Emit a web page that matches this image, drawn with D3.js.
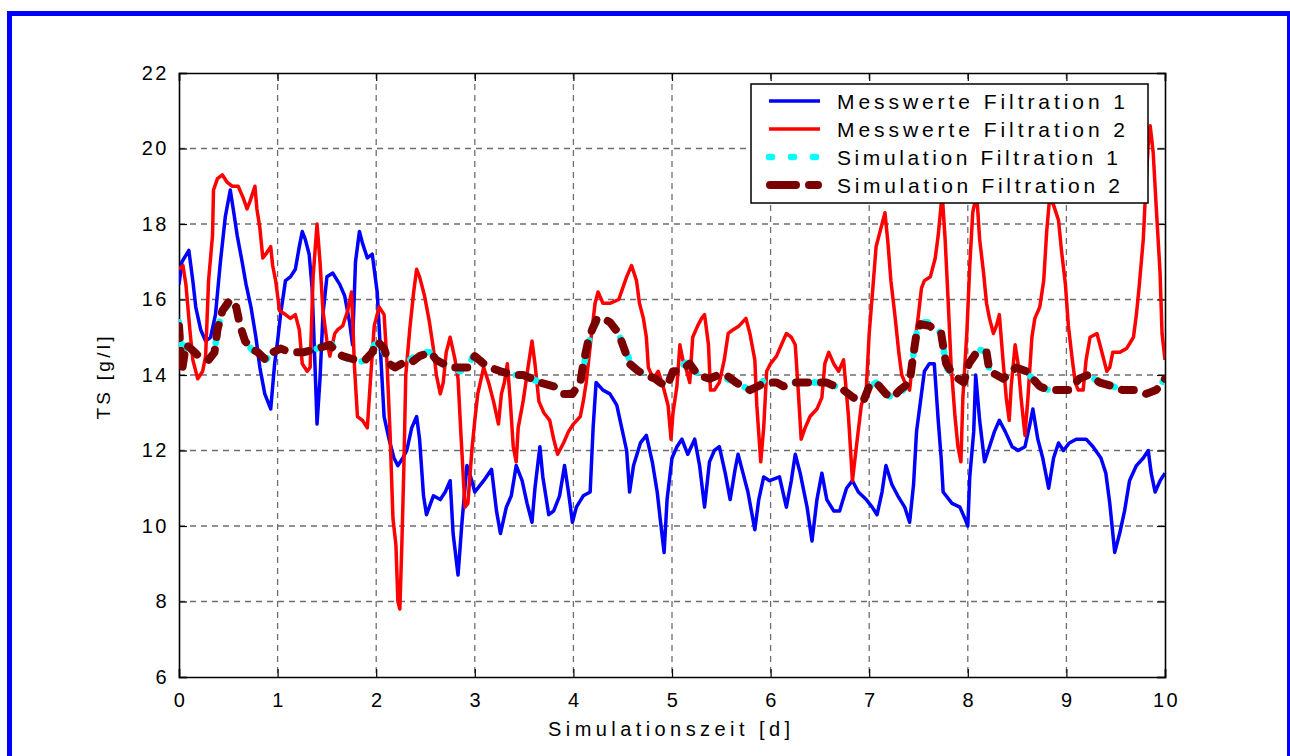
<!DOCTYPE html>
<html>
<head>
<meta charset="utf-8">
<script src="https://cdn.jsdelivr.net/npm/d3@7"></script>
<style>
  body { margin: 0; background: #fff; }
  text { font-family: "Liberation Sans", Arial, sans-serif; fill: #000; }
</style>
</head>
<body>
<div id="container"></div>
<script>
/* DATA */
const xTicks = [0, 1, 2, 3, 4, 5, 6, 7, 8, 9, 10];
const yTicks = [6, 8, 10, 12, 14, 16, 18, 20, 22];
const seriesNames = ["Messwerte Filtration 1", "Messwerte Filtration 2", "Simulation Filtration 1", "Simulation Filtration 2"];

// [time in d, TS in g/l]
const mess1 = [
  [0,16.4],[0.03,17.0],[0.1,17.3],[0.14,16.5],[0.17,15.8],[0.22,15.2],[0.27,14.9],[0.32,15.0],[0.37,15.6],[0.42,17.0],
  [0.47,18.2],[0.52,18.9],[0.55,18.4],[0.59,17.7],[0.64,17.0],[0.68,16.4],[0.73,15.8],[0.78,15.0],[0.82,14.2],[0.87,13.5],
  [0.93,13.1],[0.97,14.3],[1.0,14.9],[1.03,15.6],[1.08,16.5],[1.13,16.6],[1.18,16.8],[1.22,17.4],[1.25,17.8],[1.28,17.6],
  [1.32,17.2],[1.35,16.3],[1.38,14.2],[1.40,12.7],[1.43,13.9],[1.46,15.6],[1.50,16.6],[1.56,16.7],[1.63,16.4],[1.68,16.1],
  [1.73,15.4],[1.76,14.8],[1.79,17.0],[1.83,17.8],[1.86,17.5],[1.91,17.1],[1.96,17.2],[2.01,16.2],[2.04,14.8],[2.08,12.9],
  [2.13,12.3],[2.18,11.8],[2.22,11.6],[2.27,11.8],[2.31,12.0],[2.36,12.6],[2.41,12.9],[2.44,12.3],[2.48,10.8],[2.51,10.3],
  [2.58,10.8],[2.65,10.7],[2.70,10.9],[2.75,11.2],[2.78,9.8],[2.83,8.7],[2.87,10.1],[2.92,11.6],[2.97,11.2],[3.0,10.9],
  [3.09,11.2],[3.17,11.5],[3.22,10.4],[3.26,9.8],[3.32,10.5],[3.37,10.8],[3.42,11.6],[3.48,11.2],[3.53,10.6],[3.58,10.1],
  [3.61,11.0],[3.66,12.1],[3.69,11.3],[3.75,10.3],[3.80,10.4],[3.86,10.8],[3.91,11.6],[3.95,10.9],[3.99,10.1],[4.03,10.5],
  [4.10,10.8],[4.17,10.9],[4.20,12.6],[4.23,13.8],[4.30,13.6],[4.37,13.5],[4.44,13.2],[4.49,12.6],[4.54,12.0],[4.57,10.9],
  [4.61,11.6],[4.68,12.2],[4.74,12.4],[4.80,11.7],[4.85,10.9],[4.88,10.2],[4.92,9.3],[4.95,10.7],[5.00,11.8],[5.05,12.1],
  [5.10,12.3],[5.16,11.9],[5.23,12.3],[5.28,11.6],[5.33,10.5],[5.38,11.7],[5.43,12.0],[5.48,12.1],[5.54,11.4],[5.59,10.7],
  [5.64,11.5],[5.67,11.9],[5.72,11.4],[5.77,10.9],[5.84,9.9],[5.88,10.7],[5.93,11.3],[5.99,11.2],[6.09,11.3],[6.16,10.5],
  [6.21,11.2],[6.25,11.9],[6.30,11.4],[6.37,10.5],[6.42,9.6],[6.47,10.7],[6.52,11.4],[6.57,10.7],[6.64,10.4],[6.70,10.4],
  [6.77,11.0],[6.83,11.2],[6.89,10.9],[6.97,10.7],[7.03,10.5],[7.08,10.3],[7.13,10.9],[7.17,11.6],[7.23,11.1],[7.29,10.8],
  [7.36,10.5],[7.41,10.1],[7.45,11.1],[7.48,12.5],[7.51,13.1],[7.56,14.1],[7.61,14.3],[7.66,14.3],[7.70,12.8],[7.73,11.8],
  [7.75,10.9],[7.84,10.6],[7.92,10.5],[7.97,10.2],[8.0,10.0],[8.02,11.3],[8.06,12.5],[8.08,14.0],[8.12,12.8],[8.17,11.7],
  [8.22,12.1],[8.27,12.5],[8.32,12.8],[8.38,12.5],[8.45,12.1],[8.51,12.0],[8.58,12.1],[8.63,12.7],[8.66,13.1],[8.71,12.3],
  [8.76,11.8],[8.82,11.0],[8.87,11.8],[8.92,12.2],[8.97,12.0],[9.03,12.2],[9.10,12.3],[9.20,12.3],[9.27,12.1],[9.35,11.8],
  [9.40,11.4],[9.44,10.6],[9.49,9.3],[9.54,9.8],[9.59,10.4],[9.64,11.2],[9.71,11.6],[9.78,11.8],[9.83,12.0],[9.86,11.4],
  [9.90,10.9],[9.95,11.2],[10.0,11.4]
];

const mess2 = [
  [0,16.8],[0.04,16.9],[0.07,16.4],[0.11,15.2],[0.14,14.4],[0.19,13.9],[0.24,14.1],[0.27,14.5],[0.30,16.5],[0.34,17.7],
  [0.35,18.9],[0.39,19.2],[0.44,19.3],[0.49,19.1],[0.54,19.0],[0.60,19.0],[0.65,18.7],[0.69,18.4],[0.72,18.6],[0.77,19.0],
  [0.79,18.4],[0.82,17.9],[0.85,17.1],[0.88,17.2],[0.93,17.4],[0.95,16.9],[0.98,16.5],[1.02,15.7],[1.08,15.6],[1.13,15.5],
  [1.18,15.6],[1.22,15.2],[1.25,14.3],[1.30,14.1],[1.33,14.2],[1.36,16.6],[1.40,18.0],[1.43,17.0],[1.46,15.7],[1.50,14.9],
  [1.53,14.5],[1.58,15.1],[1.61,15.2],[1.66,15.3],[1.71,15.7],[1.75,16.2],[1.78,14.2],[1.81,12.9],[1.86,12.8],[1.91,12.6],
  [1.94,13.8],[1.98,15.3],[2.03,15.8],[2.08,15.6],[2.11,14.3],[2.14,12.5],[2.17,10.2],[2.20,9.5],[2.22,8.0],[2.24,7.8],
  [2.26,9.5],[2.28,11.5],[2.30,14.0],[2.34,15.2],[2.38,16.2],[2.41,16.8],[2.44,16.6],[2.49,16.1],[2.54,15.4],[2.58,14.7],
  [2.61,14.0],[2.65,13.5],[2.68,13.8],[2.71,14.6],[2.75,15.0],[2.80,14.4],[2.83,13.9],[2.86,12.4],[2.90,10.5],[2.93,10.6],
  [2.97,12.0],[3.0,12.8],[3.03,13.5],[3.09,14.2],[3.14,13.8],[3.19,13.3],[3.24,12.7],[3.27,13.5],[3.30,13.8],[3.33,14.3],
  [3.36,13.3],[3.39,12.1],[3.42,11.7],[3.44,12.6],[3.49,13.3],[3.54,14.2],[3.58,14.9],[3.61,14.3],[3.65,13.3],[3.70,13.0],
  [3.76,12.8],[3.80,12.3],[3.84,11.9],[3.90,12.2],[3.95,12.5],[4.00,12.7],[4.07,12.9],[4.10,13.3],[4.13,13.8],[4.18,15.0],
  [4.22,15.9],[4.25,16.2],[4.30,15.9],[4.37,15.9],[4.46,16.0],[4.50,16.3],[4.54,16.6],[4.59,16.9],[4.64,16.5],[4.67,15.9],
  [4.71,15.5],[4.74,15.0],[4.76,14.2],[4.81,13.9],[4.86,14.1],[4.91,13.7],[4.96,13.2],[4.99,12.3],[5.01,13.0],[5.05,13.7],
  [5.08,14.8],[5.11,14.4],[5.15,14.1],[5.18,13.8],[5.21,15.0],[5.26,15.3],[5.30,15.5],[5.33,15.6],[5.37,14.8],[5.39,13.6],
  [5.43,13.6],[5.48,13.8],[5.53,14.4],[5.57,15.1],[5.62,15.2],[5.68,15.3],[5.75,15.5],[5.79,15.1],[5.84,14.4],[5.86,13.2],
  [5.90,11.7],[5.93,12.6],[5.96,14.1],[6.00,14.3],[6.06,14.5],[6.11,14.8],[6.16,15.1],[6.21,15.0],[6.25,14.8],[6.28,13.6],
  [6.31,12.3],[6.35,12.6],[6.40,12.9],[6.47,13.1],[6.52,13.4],[6.55,14.3],[6.59,14.6],[6.64,14.3],[6.69,14.1],[6.74,14.4],
  [6.79,12.9],[6.83,11.2],[6.87,12.1],[6.92,13.2],[6.97,13.6],[7.00,15.1],[7.04,16.4],[7.07,17.4],[7.13,18.0],[7.16,18.3],
  [7.19,17.5],[7.22,16.5],[7.26,15.6],[7.30,14.6],[7.33,14.0],[7.38,13.7],[7.41,13.6],[7.45,14.6],[7.50,15.6],[7.53,16.3],
  [7.56,16.5],[7.62,16.6],[7.67,17.1],[7.70,17.7],[7.74,18.8],[7.77,17.6],[7.80,16.0],[7.83,14.3],[7.87,12.9],[7.90,12.1],
  [7.93,11.7],[7.95,13.4],[7.99,15.1],[8.02,16.9],[8.05,18.3],[8.09,18.8],[8.12,17.6],[8.16,16.7],[8.19,15.9],[8.22,15.5],
  [8.26,15.1],[8.29,15.3],[8.32,15.6],[8.36,14.3],[8.39,13.4],[8.42,12.8],[8.44,13.7],[8.48,14.8],[8.51,14.3],[8.54,13.4],
  [8.58,12.4],[8.61,13.4],[8.65,15.0],[8.68,15.5],[8.73,15.8],[8.77,16.5],[8.80,17.8],[8.83,18.7],[8.87,18.5],[8.92,18.1],
  [8.95,17.3],[8.99,16.4],[9.02,15.3],[9.06,14.4],[9.09,13.8],[9.12,13.6],[9.17,13.6],[9.20,14.4],[9.24,15.0],[9.31,15.1],
  [9.34,14.8],[9.38,14.4],[9.41,14.1],[9.44,14.2],[9.47,14.6],[9.54,14.6],[9.61,14.7],[9.68,15.0],[9.71,15.6],[9.74,16.4],
  [9.78,17.6],[9.80,18.7],[9.83,20.1],[9.85,20.6],[9.88,19.9],[9.91,18.5],[9.95,16.7],[9.97,15.1],[10.0,14.4]
];

const sim1 = [
  [0,15.4],[0.03,14.3],[0.07,14.9],[0.12,14.7],[0.2,14.5],[0.3,14.4],[0.36,14.6],[0.39,15.2],[0.44,15.7],[0.52,15.9],
  [0.58,15.8],[0.62,15.3],[0.67,14.9],[0.73,14.7],[0.8,14.5],[0.88,14.4],[0.95,14.6],[1.03,14.7],[1.13,14.6],[1.26,14.6],
  [1.40,14.7],[1.53,14.9],[1.60,14.6],[1.66,14.5],[1.79,14.3],[1.89,14.4],[1.96,14.7],[2.01,14.9],[2.08,14.6],[2.13,14.3],
  [2.19,14.2],[2.26,14.3],[2.34,14.4],[2.44,14.6],[2.55,14.6],[2.61,14.4],[2.75,14.2],[2.85,14.1],[2.93,14.2],[3.0,14.6],
  [3.09,14.3],[3.15,14.2],[3.26,14.1],[3.39,14.0],[3.49,14.0],[3.58,13.9],[3.66,13.8],[3.80,13.7],[3.90,13.6],[3.99,13.5],
  [4.07,13.8],[4.10,14.2],[4.15,14.8],[4.19,15.2],[4.24,15.4],[4.30,15.5],[4.37,15.4],[4.46,15.1],[4.50,14.8],[4.57,14.4],
  [4.66,14.1],[4.74,14.0],[4.83,13.9],[4.88,13.8],[4.95,13.8],[5.01,14.1],[5.08,14.2],[5.18,14.4],[5.26,14.0],[5.38,13.9],
  [5.47,14.0],[5.55,13.9],[5.65,13.8],[5.79,13.6],[5.87,13.7],[5.95,13.9],[6.06,13.8],[6.13,13.7],[6.23,13.8],[6.40,13.8],
  [6.57,13.8],[6.74,13.6],[6.84,13.4],[6.94,13.3],[7.00,13.7],[7.07,13.8],[7.17,13.5],[7.24,13.4],[7.31,13.5],[7.41,13.8],
  [7.44,14.4],[7.48,15.1],[7.52,15.4],[7.61,15.4],[7.73,15.1],[7.76,14.6],[7.78,14.2],[7.85,14.0],[7.96,13.9],[8.01,14.3],
  [8.09,14.7],[8.19,14.6],[8.22,14.1],[8.36,13.9],[8.49,14.2],[8.59,14.1],[8.73,13.7],[8.82,13.6],[8.95,13.6],[9.03,13.6],
  [9.13,13.9],[9.22,14.0],[9.34,13.8],[9.47,13.7],[9.57,13.6],[9.71,13.6],[9.81,13.5],[9.91,13.6],[10.0,13.9]
];

const sim2 = [
  [0,15.3],[0.03,14.1],[0.07,14.8],[0.12,14.7],[0.2,14.5],[0.3,14.4],[0.36,14.6],[0.39,15.2],[0.44,15.7],[0.52,16.0],
  [0.58,15.8],[0.62,15.3],[0.67,14.9],[0.73,14.7],[0.8,14.6],[0.88,14.4],[0.95,14.6],[1.03,14.7],[1.13,14.6],[1.26,14.6],
  [1.40,14.7],[1.53,14.8],[1.60,14.6],[1.66,14.5],[1.79,14.4],[1.89,14.4],[1.96,14.6],[2.01,14.9],[2.08,14.7],[2.13,14.3],
  [2.19,14.2],[2.26,14.3],[2.34,14.3],[2.44,14.5],[2.55,14.6],[2.61,14.4],[2.75,14.2],[2.85,14.2],[2.93,14.2],[3.0,14.5],
  [3.09,14.3],[3.15,14.2],[3.26,14.1],[3.39,14.0],[3.49,14.0],[3.58,13.9],[3.66,13.8],[3.80,13.7],[3.90,13.5],[3.99,13.5],
  [4.07,13.8],[4.10,14.3],[4.15,14.9],[4.19,15.2],[4.24,15.5],[4.30,15.5],[4.37,15.4],[4.46,15.1],[4.50,14.8],[4.57,14.3],
  [4.66,14.1],[4.74,14.0],[4.83,13.9],[4.88,13.8],[4.95,13.7],[5.01,14.1],[5.08,14.1],[5.18,14.3],[5.26,14.0],[5.38,13.9],
  [5.47,14.0],[5.55,14.0],[5.65,13.8],[5.79,13.6],[5.87,13.7],[5.95,13.8],[6.06,13.8],[6.13,13.7],[6.23,13.8],[6.40,13.8],
  [6.57,13.8],[6.74,13.6],[6.84,13.4],[6.94,13.3],[7.00,13.7],[7.07,13.8],[7.17,13.5],[7.24,13.4],[7.31,13.6],[7.41,13.8],
  [7.44,14.4],[7.48,15.1],[7.52,15.35],[7.61,15.3],[7.73,15.1],[7.76,14.6],[7.78,14.3],[7.85,14.0],[7.96,13.8],[8.01,14.3],
  [8.09,14.6],[8.19,14.6],[8.22,14.1],[8.36,13.9],[8.49,14.2],[8.59,14.1],[8.73,13.7],[8.82,13.6],[8.95,13.6],[9.03,13.6],
  [9.13,13.9],[9.22,14.0],[9.34,13.8],[9.47,13.7],[9.57,13.6],[9.71,13.6],[9.81,13.5],[9.91,13.6],[10.0,13.9]
];

/* CONSTANTS */
const width = 1290,
  height = 756,
  margin = { top: 73, bottom: 79, left: 179, right: 125 };

const xScale = d3.scaleLinear()
  .domain([0, 10])
  .range([margin.left, width - margin.right]);

const yScale = d3.scaleLinear()
  .domain([6, 22])
  .range([height - margin.bottom, margin.top]);

const svg = d3.select("#container")
  .append("svg")
  .attr("width", width)
  .attr("height", height);

// blue frame round the figure
svg.append("rect")
  .attr("x", 9.5).attr("y", 13.5)
  .attr("width", 1280).attr("height", 760)
  .attr("fill", "none")
  .attr("stroke", "#0000ff")
  .attr("stroke-width", 5);

// grid
const grid = svg.append("g")
  .attr("stroke", "#6e6e6e")
  .attr("stroke-width", 1.3)
  .attr("stroke-dasharray", "6 5");

grid.selectAll(".vgrid")
  .data(xTicks.slice(1, -1))
  .join("line")
  .attr("x1", d => xScale(d)).attr("x2", d => xScale(d))
  .attr("y1", yScale(22)).attr("y2", yScale(6));

grid.selectAll(".hgrid")
  .data(yTicks.slice(1, -1))
  .join("line")
  .attr("y1", d => yScale(d)).attr("y2", d => yScale(d))
  .attr("x1", xScale(0)).attr("x2", xScale(10));

// axes with inward ticks, plus mirrored axes on top and right
const xAxis = d3.axisBottom(xScale).tickValues(xTicks).tickSize(-8).tickPadding(16).tickFormat(d3.format("d"));
const yAxis = d3.axisLeft(yScale).tickValues(yTicks).tickSize(-8).tickPadding(12).tickFormat(d3.format("d"));

const gx = svg.append("g")
  .attr("transform", `translate(0, ${yScale(6)})`)
  .call(xAxis);

const gy = svg.append("g")
  .attr("transform", `translate(${xScale(0)}, 0)`)
  .call(yAxis);

svg.append("g")
  .attr("transform", `translate(0, ${yScale(22)})`)
  .call(d3.axisTop(xScale).tickValues(xTicks).tickSize(-8).tickFormat(""));

svg.append("g")
  .attr("transform", `translate(${xScale(10)}, 0)`)
  .call(d3.axisRight(yScale).tickValues(yTicks).tickSize(-8).tickFormat(""));

svg.selectAll(".domain").attr("stroke", "#000").attr("stroke-width", 1.6);
svg.selectAll(".tick line").attr("stroke", "#000").attr("stroke-width", 1.2);

gx.selectAll("text")
  .style("font-size", "20px")
  .style("letter-spacing", "2.5px")
  .attr("dx", "1px");
gy.selectAll("text")
  .style("font-size", "20px")
  .style("letter-spacing", "2.5px")
  .attr("dx", "2px");

// lines
svg.append("clipPath").attr("id", "plotclip")
  .append("rect")
  .attr("x", xScale(0)).attr("y", yScale(22))
  .attr("width", xScale(10) - xScale(0))
  .attr("height", yScale(6) - yScale(22));

const line = d3.line()
  .x(d => xScale(d[0]))
  .y(d => yScale(d[1]));

const plot = svg.append("g").attr("clip-path", "url(#plotclip)");

const styles = [
  { data: mess1, color: "#0000ff", w: 3.5, dash: null, cap: "butt" },
  { data: mess2, color: "#ff0000", w: 3.5, dash: null, cap: "butt" },
  { data: sim1, color: "#00ffff", w: 6.5, dash: "3 16", cap: "round" },
  { data: sim2, color: "#7a0000", w: 8, dash: "12 13", cap: "round" }
];

styles.forEach(s => {
  plot.append("path")
    .datum(s.data)
    .attr("d", line)
    .attr("fill", "none")
    .attr("stroke", s.color)
    .attr("stroke-width", s.w)
    .attr("stroke-linejoin", "round")
    .attr("stroke-linecap", s.cap)
    .attr("stroke-dasharray", s.dash);
});

// legend
const legend = svg.append("g");
legend.append("rect")
  .attr("x", 751).attr("y", 84)
  .attr("width", 397).attr("height", 119)
  .attr("fill", "#fff")
  .attr("stroke", "#000")
  .attr("stroke-width", 1.5);

const legendLens = [288, 288, 281, 283];
const legendRows = legend.selectAll(".row")
  .data(seriesNames)
  .join("g")
  .attr("transform", (d, i) => `translate(0, ${101 + i * 28})`);

legendRows.append("line")
  .attr("x1", (d, i) => i === 3 ? 770 : 769)
  .attr("x2", (d, i) => i >= 2 ? 818 : 820)
  .attr("stroke", (d, i) => styles[i].color)
  .attr("stroke-width", (d, i) => styles[i].w)
  .attr("stroke-linecap", (d, i) => styles[i].cap)
  .attr("stroke-dasharray", (d, i) => i === 2 ? "3 19" : i === 3 ? "26 13" : null);

legendRows.append("text")
  .attr("x", 837)
  .attr("y", 7.5)
  .attr("textLength", (d, i) => legendLens[i])
  .attr("lengthAdjust", "spacing")
  .style("font-size", "21px")
  .text(d => d);

// axis titles
svg.append("text")
  .attr("x", 669).attr("y", 736)
  .attr("text-anchor", "middle")
  .attr("textLength", 242)
  .attr("lengthAdjust", "spacing")
  .style("font-size", "20px")
  .text("Simulationszeit [d]");

svg.append("text")
  .attr("transform", "translate(110, 378) rotate(-90)")
  .attr("text-anchor", "middle")
  .attr("textLength", 83)
  .attr("lengthAdjust", "spacing")
  .style("font-size", "19px")
  .text("TS [g/l]");
</script>
</body>
</html>
